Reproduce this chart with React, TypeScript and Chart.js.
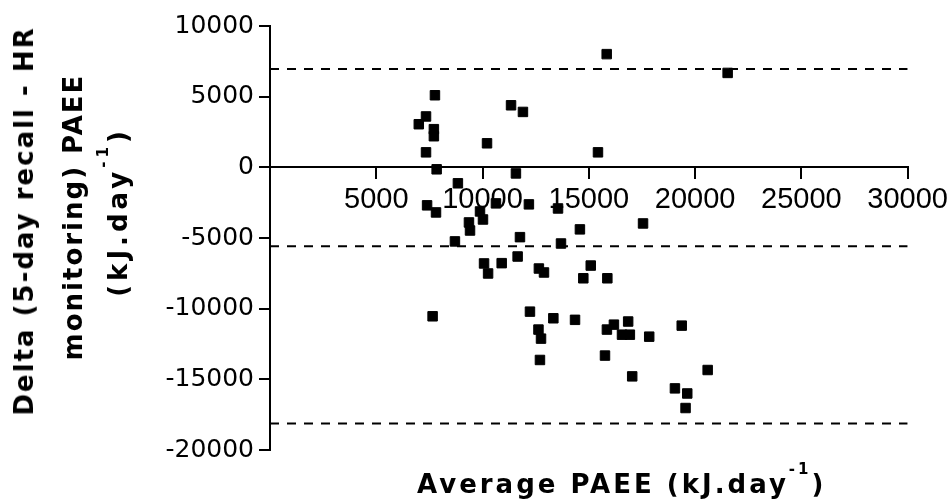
import React, { useEffect, useRef } from 'react';
import { Chart, registerables } from 'chart.js';

Chart.register(...registerables);

// ---- Data ----
const averagePAEE = [
  7000, 7340, 7760, 7710, 7710, 7340, 7840, 8840, 7390, 7810,
  10210, 11340, 11900, 11570, 12180, 10630, 9880, 10020, 9360, 9410,
  13550, 14580, 15430, 15840, 21530, 8700, 11760, 13690, 10070, 10260,
  10900, 11650, 12650, 12890, 15090, 14740, 15870, 17550, 7650, 12230,
  13330, 14350, 12630, 12750, 12700, 15850, 16180, 16850, 16560, 16930,
  17840, 19370, 15760, 17040, 20590, 19050, 19630, 19550,
];
const deltaPAEE = [
  3050, 3600, 5100, 2700, 2200, 1060, -140, -1130, -2690, -3190,
  1700, 4390, 3920, -430, -2620, -2550, -3120, -3690, -3900, -4470,
  -2910, -4390, 1060, 8010, 6680, -5240, -4940, -5390, -6800, -7510,
  -6780, -6310, -7160, -7440, -6950, -7850, -7850, -3970, -10540, -10210,
  -10680, -10790, -11480, -12120, -13630, -11480, -11130, -10910, -11840, -11840,
  -11980, -11200, -13320, -14790, -14340, -15640, -16000, -17030,
];
const limitLines = [6950, -5580, -18120]; // upper LoA, mean difference, lower LoA
const xRange = [0, 30000];
const yRange = [-20000, 10000];
const xTickValues = [5000, 10000, 15000, 20000, 25000, 30000];
const yTickValues = [-20000, -15000, -10000, -5000, 0, 5000, 10000];

const ARIAL = '"Liberation Sans", Arial, Helvetica, sans-serif';
const DEJAVU = '"DejaVu Sans", Verdana, sans-serif';

function RotLine({ cx, cy, ls, children }: { cx: number; cy: number; ls: number; children: any }) {
  return (
    <div
      style={{
        position: 'absolute',
        left: cx,
        top: cy,
        transform: 'translate(-50%, -50%) rotate(-90deg)',
        fontFamily: DEJAVU,
        fontWeight: 'bold',
        fontSize: 26,
        lineHeight: 1,
        letterSpacing: ls,
        paddingLeft: ls,
        whiteSpace: 'nowrap',
        color: '#000',
      }}
    >
      {children}
    </div>
  );
}

const supStyle: any = { fontSize: 15, position: 'relative', top: -19 };

export default function App() {
  const ref = useRef<HTMLCanvasElement>(null);

  useEffect(() => {
    const points = averagePAEE.map((x, i) => ({ x, y: deltaPAEE[i] }));
    const lineSets = limitLines.map((v) => ({
      data: [
        { x: xRange[0], y: v },
        { x: xRange[1], y: v },
      ],
      showLine: true,
      borderColor: '#000',
      borderWidth: 2,
      borderDash: [9, 8],
      pointRadius: 0,
      fill: false,
    }));
    const axisGrid = {
      drawOnChartArea: false,
      drawTicks: true,
      tickLength: 11,
      color: '#000',
      lineWidth: 2,
    };
    const axisBorder = { display: true, color: '#000', width: 2 };

    const chart = new Chart(ref.current as HTMLCanvasElement, {
      type: 'scatter',
      data: {
        datasets: [
          {
            data: points,
            pointStyle: 'rect',
            pointRadius: 6.7,
            backgroundColor: '#000',
            borderColor: '#000',
            borderWidth: 1,
          } as any,
          ...(lineSets as any[]),
        ],
      },
      options: {
        responsive: false,
        animation: false,
        devicePixelRatio: 1,
        layout: { padding: { left: 0, top: 26, right: 44, bottom: 54 } },
        plugins: { legend: { display: false }, tooltip: { enabled: false } },
        scales: {
          x: {
            type: 'linear',
            position: { y: 0 } as any,
            min: xRange[0],
            max: xRange[1],
            afterFit: (s: any) => {
              s.height = 0;
            },
            afterBuildTicks: (s: any) => {
              s.ticks = xTickValues.map((v) => ({ value: v }));
            },
            ticks: {
              color: '#000',
              font: { family: ARIAL, size: 29 },
              padding: 4,
              maxRotation: 0,
              autoSkip: false,
              callback: (v: any) => String(v),
            },
            grid: axisGrid as any,
            border: axisBorder as any,
          },
          y: {
            type: 'linear',
            position: 'left',
            min: yRange[0],
            max: yRange[1],
            afterFit: (s: any) => {
              s.width = 270;
            },
            afterBuildTicks: (s: any) => {
              s.ticks = yTickValues.map((v) => ({ value: v }));
            },
            ticks: {
              color: '#000',
              font: { family: DEJAVU, size: 25 },
              padding: 5,
              autoSkip: false,
              callback: (v: any) => String(v),
            },
            grid: axisGrid as any,
            border: axisBorder as any,
          } as any,
        },
      },
    });
    return () => chart.destroy();
  }, []);

  return (
    <div
      style={{
        position: 'absolute',
        left: 0,
        top: 0,
        width: 952,
        height: 504,
        background: '#fff',
        overflow: 'hidden',
      }}
    >
      <canvas
        ref={ref}
        width={952}
        height={504}
        style={{ position: 'absolute', left: 0, top: 0, width: 952, height: 504 }}
      />
      <RotLine cx={23.5} cy={222} ls={2}>
        Delta (5-day recall - HR
      </RotLine>
      <RotLine cx={72.5} cy={217.5} ls={2}>
        monitoring) PAEE
      </RotLine>
      <RotLine cx={118} cy={213.5} ls={4}>
        (kJ.day<span style={supStyle}>-1</span>)
      </RotLine>
      <div
        style={{
          position: 'absolute',
          left: 417,
          top: 471,
          fontFamily: DEJAVU,
          fontWeight: 'bold',
          fontSize: 26,
          lineHeight: 1,
          letterSpacing: 3,
          whiteSpace: 'nowrap',
          color: '#000',
        }}
      >
        Average PAEE (kJ.day<span style={supStyle}>-1</span>)
      </div>
    </div>
  );
}
